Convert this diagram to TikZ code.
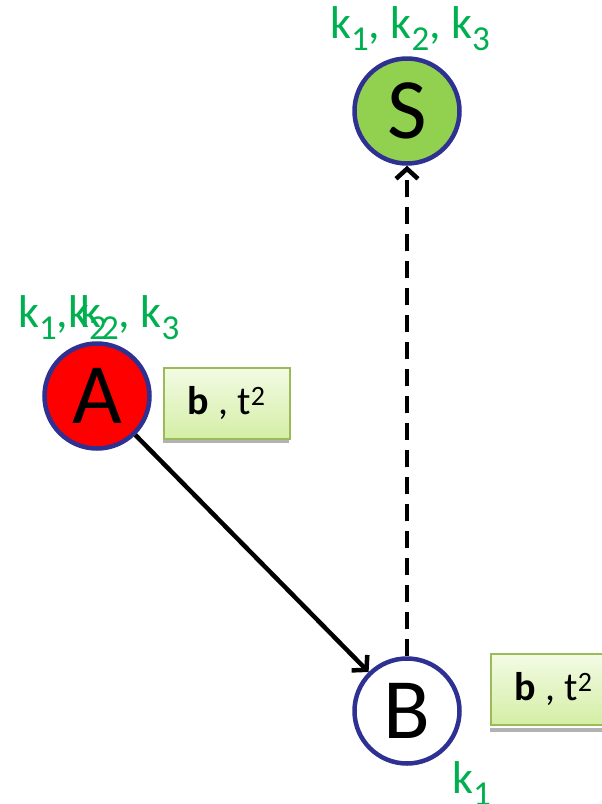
\documentclass[tikz,border=0pt]{standalone}
\usepackage{fontspec}
\setmainfont{Carlito}
\usepackage{xcolor}
\usetikzlibrary{arrows.meta}
\definecolor{rimblue}{RGB}{46,49,146}
\definecolor{keygreen}{RGB}{0,176,80}
\definecolor{sgreen}{RGB}{146,208,80}
\definecolor{boxedge}{RGB}{155,187,89}
\definecolor{boxtop}{RGB}{243,251,228}
\definecolor{boxbot}{RGB}{212,238,166}
\newcommand{\lowidx}[1]{\raisebox{-12pt}{\fontsize{35}{35}\selectfont #1}}

\tikzset{
  peer/.style={circle,draw=rimblue,line width=4.5pt,minimum size=105pt,inner sep=0pt,
    font=\fontsize{86}{86}\selectfont},
  keys/.style={text=keygreen,font=\fontsize{46}{46}\selectfont,inner sep=0pt,anchor=base west},
  msgbox/.style={draw=boxedge,line width=1.5pt,top color=boxtop,bottom color=boxbot,
    minimum width=126pt,minimum height=71pt,inner sep=0pt,anchor=north west,
    font=\fontsize{40}{40}\selectfont},
  link/.style={line width=4.5pt,-{Straight Barb[length=10pt,width=22pt]}}
}

\begin{document}
\begin{tikzpicture}[x=1pt,y=-1pt]
\useasboundingbox (0,0) rectangle (602,804);

% peers
\node[peer,fill=sgreen] (S) at (407,111) {S};
\node[peer,fill=red] (A) at (97,396) {A};
\node[peer,fill=white] (B) at (407,711) {B};

% key labels
\node[keys] (kS) at (330,38) {k\lowidx{1}, k\lowidx{2}, k\lowidx{3}};
\node[keys] (kAa) at (18,327) {k\lowidx{1},k\lowidx{2}};
\node[keys] (kAb) at (80,327) {k\lowidx{2}, k\lowidx{3}};
\node[keys] (kB) at (452,793) {k\lowidx{1}};

% message boxes with shadow strip
\fill[gray!60] (163,439) rectangle (289,443);
\node[msgbox] (mA) at (163,367) {\textbf{b} , t\textsuperscript{2}};
\fill[gray!60] (490,728) rectangle (616,732);
\node[msgbox] (mB) at (490,653) {\textbf{b} , t\textsuperscript{2}};

% links
\draw[link] (A) -- (B);
\draw[link,dash pattern=on 17pt off 10pt] (B) -- (S);
\end{tikzpicture}
\end{document}
